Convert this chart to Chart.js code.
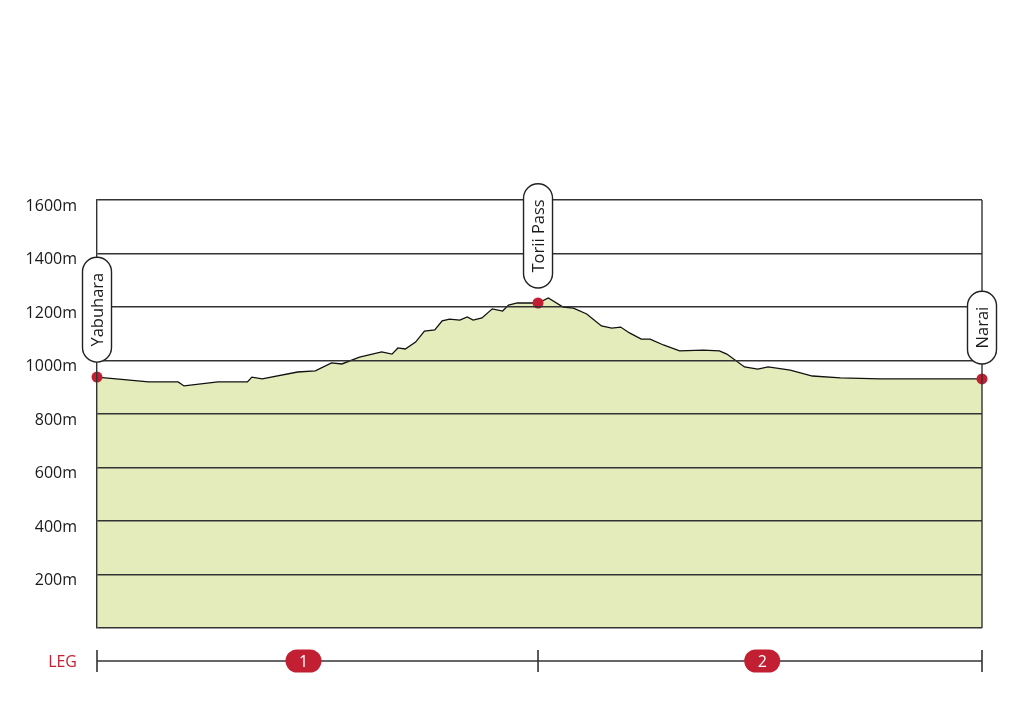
<!DOCTYPE html>
<html>
<head>
<meta charset="utf-8">
<script src="https://cdn.jsdelivr.net/npm/chart.js@4.4.1/dist/chart.umd.min.js"></script>
<style>
  html, body { margin: 0; padding: 0; background: #fff; }
  #wrap { width: 1024px; height: 727px; position: relative; }
</style>
</head>
<body>
<div id="wrap"><canvas id="profile"></canvas></div>
<script>
// ── Données du profil ──────────────────────────────────────
const DIST_KM = [0.00, 0.35, 0.55, 0.59, 0.82, 1.02, 1.05, 1.12, 1.36, 1.48,
                 1.59, 1.66, 1.78, 1.93, 2.00, 2.04, 2.09, 2.16, 2.22, 2.29,
                 2.34, 2.39, 2.46, 2.51, 2.55, 2.61, 2.68, 2.75, 2.79, 2.85,
                 2.95, 2.99, 3.06, 3.16, 3.23, 3.32, 3.42, 3.49, 3.55, 3.61,
                 3.69, 3.75, 3.84, 3.95, 4.11, 4.22, 4.27, 4.39, 4.48, 4.55,
                 4.70, 4.85, 5.04, 5.31, 6.00];
const ELEV_M  = [938, 920, 920, 905, 920, 920, 938, 931, 957, 961,
                 991, 987, 1013, 1032, 1024, 1047, 1043, 1069, 1110, 1114,
                 1148, 1155, 1151, 1163, 1151, 1159, 1193, 1185, 1207, 1215,
                 1215, 1215, 1234, 1200, 1196, 1174, 1129, 1121, 1125, 1103,
                 1080, 1080, 1058, 1036, 1039, 1036, 1024, 976, 968, 976,
                 964, 942, 935, 931, 931];

const PLACE_NAMES = ['Yabuhara', 'Torii Pass', 'Narai'];
const PLACE_DIST  = [0, 2.99, 6.0];
const PLACE_ELEV  = [938, 1215, 931];

const LEG_BOUNDS = [0, 2.99, 6.0];
const LEG_NAMES  = ['1', '2'];
const LEG_MID    = [1.40, 4.51];

const Y_TICKS = [0, 200, 400, 600, 800, 1000, 1200, 1400, 1600];

const RED  = '#c21f32';
const INK  = '#1a1a1a';
const FONT = '"Open Sans", sans-serif';

function roundRect(ctx, x, y, w, h, r) {
    ctx.beginPath();
    ctx.moveTo(x + r, y);
    ctx.arcTo(x + w, y, x + w, y + h, r);
    ctx.arcTo(x + w, y + h, x, y + h, r);
    ctx.arcTo(x, y + h, x, y, r);
    ctx.arcTo(x, y, x + w, y, r);
    ctx.closePath();
}

// ── Décor : bord droit, étiquettes des lieux, barre des étapes ──
const decor = {
    id: 'decor',
    afterDraw(chart) {
        const { ctx, chartArea: ca, scales: { x, y } } = chart;
        ctx.save();

        // bord droit
        ctx.strokeStyle = '#333';
        ctx.lineWidth = 1.4;
        ctx.beginPath();
        ctx.moveTo(ca.right, ca.top);
        ctx.lineTo(ca.right, ca.bottom);
        ctx.stroke();

        // étiquettes verticales des lieux
        ctx.font = '16.5px ' + FONT;
        PLACE_NAMES.forEach((name, i) => {
            const px = x.getPixelForValue(PLACE_DIST[i]);
            const py = y.getPixelForValue(PLACE_ELEV[i]);
            const tw = ctx.measureText(name).width;
            const w = 29, h = tw + 31;
            const bottom = py - 15;
            roundRect(ctx, px - w / 2, bottom - h, w, h, w / 2);
            ctx.fillStyle = '#fff';
            ctx.fill();
            ctx.strokeStyle = '#222';
            ctx.lineWidth = 1.4;
            ctx.stroke();
            ctx.save();
            ctx.translate(px, bottom - h / 2);
            ctx.rotate(-Math.PI / 2);
            ctx.fillStyle = INK;
            ctx.textAlign = 'center';
            ctx.textBaseline = 'middle';
            ctx.fillText(name, 0, 1);
            ctx.restore();
        });

        // barre des étapes
        const ly = ca.bottom + 33;
        ctx.strokeStyle = '#333';
        ctx.lineWidth = 1.6;
        ctx.beginPath();
        ctx.moveTo(x.getPixelForValue(LEG_BOUNDS[0]), ly);
        ctx.lineTo(x.getPixelForValue(LEG_BOUNDS[LEG_BOUNDS.length - 1]), ly);
        ctx.stroke();
        LEG_BOUNDS.forEach(d => {
            const px = x.getPixelForValue(d);
            ctx.beginPath();
            ctx.moveTo(px, ly - 11);
            ctx.lineTo(px, ly + 11);
            ctx.stroke();
        });

        ctx.font = '16px ' + FONT;
        ctx.textBaseline = 'middle';
        ctx.fillStyle = RED;
        ctx.textAlign = 'right';
        ctx.fillText('LEG', ca.left - 20, ly + 1);

        LEG_NAMES.forEach((n, i) => {
            const px = x.getPixelForValue(LEG_MID[i]);
            roundRect(ctx, px - 18, ly - 11.5, 36, 23, 11.5);
            ctx.fillStyle = RED;
            ctx.fill();
            ctx.fillStyle = '#fff';
            ctx.textAlign = 'center';
            ctx.fillText(n, px, ly + 1);
        });

        ctx.restore();
    }
};

const ctx = document.getElementById('profile').getContext('2d');
new Chart(ctx, {
    type: 'line',
    data: {
        datasets: [
            {
                label: 'Altitude',
                data: DIST_KM.map((d, i) => ({ x: d, y: ELEV_M[i] })),
                borderColor: '#111',
                borderWidth: 1.3,
                backgroundColor: '#e4ecbb',
                fill: 'origin',
                pointRadius: 0,
                tension: 0,
                order: 2,
            },
            {
                label: 'Lieux',
                type: 'scatter',
                data: PLACE_DIST.map((d, i) => ({ x: d, y: PLACE_ELEV[i] })),
                pointRadius: 5.5,
                pointBackgroundColor: RED,
                pointBorderWidth: 0,
                clip: false,
                order: 1,
            }
        ]
    },
    options: {
        responsive: true,
        maintainAspectRatio: false,
        animation: false,
        events: [],
        layout: { padding: { top: 200, right: 42, bottom: 99, left: 0 } },
        plugins: { legend: { display: false }, tooltip: { enabled: false } },
        scales: {
            x: { type: 'linear', min: 0, max: 6, display: false },
            y: {
                min: 0, max: 1600,
                afterFit: s => { s.width = 97; },
                afterBuildTicks: s => { s.ticks = Y_TICKS.map(v => ({ value: v })); },
                grid: { color: '#333', lineWidth: 1.4, drawTicks: false, z: 1 },
                border: { display: true, color: '#333', width: 1.4, z: 1 },
                ticks: {
                    padding: 20,
                    labelOffset: 6,
                    color: INK,
                    font: { family: FONT, size: 16 },
                    callback: v => v === 0 ? '' : v + 'm'
                }
            }
        }
    },
    plugins: [decor]
});
</script>
</body>
</html>
